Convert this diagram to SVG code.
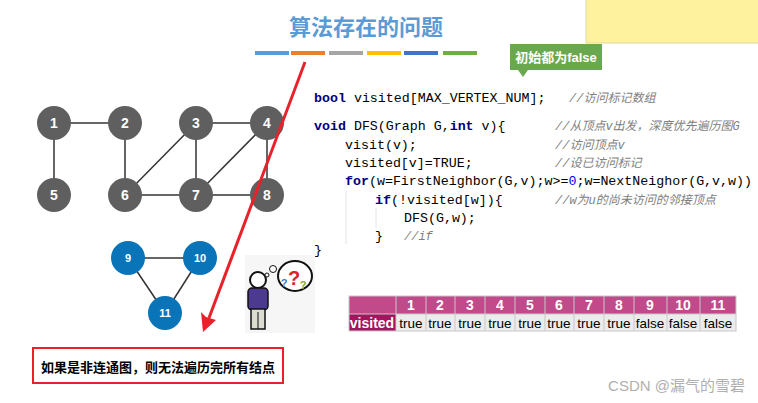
<svg xmlns="http://www.w3.org/2000/svg" width="758" height="403" viewBox="0 0 758 403">
<style>
.g{fill:#5f5f5f}.b{fill:#0a74b8}
.nt{font-family:"Liberation Sans",sans-serif;font-weight:bold;fill:#fff;text-anchor:middle}
.e{stroke:#333;stroke-width:1.5;fill:none}
.code{font-family:"Liberation Mono","DejaVu Sans Mono",monospace;font-size:13.3px;fill:#000}
.kw{fill:#000080;font-weight:bold}
.cm{fill:#808080;font-style:italic;font-family:"Liberation Mono","Noto Sans CJK SC",monospace;font-size:12px}
.th{font-family:"Liberation Sans",sans-serif;font-size:14px;font-weight:bold;fill:#fff;text-anchor:middle}
.td{font-family:"Liberation Sans",sans-serif;font-size:13.5px;fill:#000;text-anchor:middle}
</style>
<rect width="758" height="403" fill="#fff"/>
<rect x="586" y="-2" width="174" height="45" fill="#fff29e" stroke="#e0d9a0"/>
<text x="366" y="35" text-anchor="middle" font-family="Noto Sans CJK SC,sans-serif" font-size="22" font-weight="bold" fill="#5b9bd5">算法存在的问题</text>
<g>
<rect x="255" y="51" width="34" height="4" fill="#5b9bd5"/>
<rect x="291" y="51" width="34" height="4" fill="#ed7d31"/>
<rect x="329" y="51" width="34" height="4" fill="#a5a5a5"/>
<rect x="367" y="51" width="34" height="4" fill="#ffc000"/>
<rect x="404" y="51" width="34" height="4" fill="#4472c4"/>
<rect x="443" y="51" width="34" height="4" fill="#70ad47"/>
</g>
<g id="callout">
<path d="M510,44 H602 V70 H528 L523,77 L518,70 H510 Z" fill="#6aa84f"/>
<text x="556" y="62" text-anchor="middle" font-family="Liberation Sans,Noto Sans CJK SC,sans-serif" font-size="13" font-weight="bold" fill="#fff">初始都为false</text>
</g>
<g id="edges">
<line class="e" x1="54" y1="123" x2="125" y2="123"/>
<line class="e" x1="54" y1="123" x2="54" y2="195"/>
<line class="e" x1="125" y1="123" x2="125" y2="195"/>
<line class="e" x1="196" y1="123" x2="267" y2="123"/>
<line class="e" x1="196" y1="123" x2="125" y2="195"/>
<line class="e" x1="196" y1="123" x2="196" y2="195"/>
<line class="e" x1="267" y1="123" x2="196" y2="195"/>
<line class="e" x1="267" y1="123" x2="267" y2="195"/>
<line class="e" x1="125" y1="195" x2="267" y2="195"/>
<line class="e" x1="128" y1="258" x2="200" y2="258"/>
<line class="e" x1="128" y1="258" x2="165" y2="313"/>
<line class="e" x1="200" y1="258" x2="165" y2="313"/>
</g>
<g font-size="14">
<g id="n1"><circle class="g" cx="54" cy="123" r="17"/><text class="nt" x="54" y="128">1</text></g>
<g id="n2"><circle class="g" cx="125" cy="123" r="17"/><text class="nt" x="125" y="128">2</text></g>
<g id="n3"><circle class="g" cx="196" cy="123" r="17"/><text class="nt" x="196" y="128">3</text></g>
<g id="n4"><circle class="g" cx="267" cy="123" r="17"/><text class="nt" x="267" y="128">4</text></g>
<g id="n5"><circle class="g" cx="54" cy="195" r="17"/><text class="nt" x="54" y="200">5</text></g>
<g id="n6"><circle class="g" cx="125" cy="195" r="17"/><text class="nt" x="125" y="200">6</text></g>
<g id="n7"><circle class="g" cx="196" cy="195" r="17"/><text class="nt" x="196" y="200">7</text></g>
<g id="n8"><circle class="g" cx="267" cy="195" r="17"/><text class="nt" x="267" y="200">8</text></g>
</g>
<g font-size="11">
<g id="n9"><circle class="b" cx="128" cy="258" r="17"/><text class="nt" x="128" y="262">9</text></g>
<g id="n10"><circle class="b" cx="200" cy="258" r="17"/><text class="nt" x="200" y="262">10</text></g>
<g id="n11"><circle class="b" cx="165" cy="313" r="17"/><text class="nt" x="165" y="317">11</text></g>
</g>
<g id="arrow">
<line x1="305" y1="62" x2="209" y2="318" stroke="#e8212a" stroke-width="3"/>
<path d="M203,332 L201,312 L206,317 L216,320 Z" fill="#e8212a"/>
</g>
<g id="note">
<rect x="33" y="348" width="250" height="35" fill="#fff" stroke="#e8212a" stroke-width="2"/>
<text x="158" y="372" text-anchor="middle" font-family="Noto Sans CJK SC,sans-serif" font-size="13" font-weight="bold" fill="#000">如果是非连通图，则无法遍历完所有结点</text>
</g>
<g id="code" class="code">
<text x="314" y="102"><tspan class="kw">bool</tspan> visited[MAX_VERTEX_NUM];</text>
<text x="569" y="102" class="cm">//访问标记数组</text>
<text x="314" y="130"><tspan class="kw">void</tspan> DFS(Graph G,<tspan class="kw">int</tspan> v){</text>
<text x="555" y="130" class="cm">//从顶点v出发，深度优先遍历图G</text>
<text x="345" y="149">visit(v);</text>
<text x="555" y="149" class="cm">//访问顶点v</text>
<text x="345" y="167">visited[v]=TRUE;</text>
<text x="555" y="167" class="cm">//设已访问标记</text>
<text x="345" y="185"><tspan class="kw">for</tspan>(w=FirstNeighbor(G,v);w&gt;=<tspan fill="#0000ff">0</tspan>;w=NextNeighor(G,v,w))</text>
<text x="375" y="204"><tspan class="kw">if</tspan>(!visited[w]){</text>
<text x="555" y="204" class="cm">//w为u的尚未访问的邻接顶点</text>
<text x="404" y="222">DFS(G,w);</text>
<text x="375" y="240">}</text>
<text x="404" y="240" class="cm">//if</text>
<text x="314" y="254">}</text>
<line x1="346" y1="190" x2="346" y2="244" stroke="#e4e4e4"/>
<line x1="376" y1="208" x2="376" y2="228" stroke="#e4e4e4"/>
</g>
<g id="person">
<rect x="245" y="255" width="70" height="78" fill="#f6f6f6"/>
<circle cx="258" cy="280" r="8" fill="#fff" stroke="#111" stroke-width="2"/>
<rect x="248" y="288" width="20" height="22" rx="4" fill="#4b3a8f" stroke="#111" stroke-width="1.5"/>
<rect x="251" y="309" width="14" height="20" fill="#dcdcd0" stroke="#111" stroke-width="1.5"/>
<line x1="258" y1="312" x2="258" y2="329" stroke="#111"/>
<circle cx="267" cy="275" r="2" fill="#fff" stroke="#111"/>
<circle cx="273" cy="269" r="3.5" fill="#fff" stroke="#111"/>
<ellipse cx="295" cy="276" rx="17" ry="15" fill="#fff" stroke="#111" stroke-width="2"/>
<text x="294" y="285" text-anchor="middle" font-family="Liberation Sans,sans-serif" font-size="20" font-weight="bold" fill="#d9262c">?</text>
<text x="284" y="287" text-anchor="middle" font-family="Liberation Sans,sans-serif" font-size="11" font-weight="bold" fill="#3b78c0">?</text>
<text x="303" y="289" text-anchor="middle" font-family="Liberation Sans,sans-serif" font-size="11" font-weight="bold" fill="#8aa626">?</text>
</g>
<g id="table">
<rect x="349" y="296" width="387" height="18" fill="#c14a8a"/>
<rect x="349" y="314" width="47" height="17" fill="#a3155f"/>
<rect x="396" y="314" width="340" height="17" fill="#ececec"/>
<g stroke="#c8c8c8" stroke-width="1">
<rect x="349" y="296" width="387" height="35" fill="none"/>
<line x1="396" y1="296" x2="396" y2="331"/><line x1="426" y1="296" x2="426" y2="331"/><line x1="455" y1="296" x2="455" y2="331"/><line x1="485" y1="296" x2="485" y2="331"/><line x1="515" y1="296" x2="515" y2="331"/><line x1="545" y1="296" x2="545" y2="331"/><line x1="574" y1="296" x2="574" y2="331"/><line x1="604" y1="296" x2="604" y2="331"/><line x1="634" y1="296" x2="634" y2="331"/><line x1="667" y1="296" x2="667" y2="331"/><line x1="700" y1="296" x2="700" y2="331"/>
<line x1="349" y1="314" x2="736" y2="314"/>
</g>
<text class="th" x="411" y="310">1</text><text class="th" x="440" y="310">2</text><text class="th" x="470" y="310">3</text><text class="th" x="500" y="310">4</text><text class="th" x="530" y="310">5</text><text class="th" x="559" y="310">6</text><text class="th" x="589" y="310">7</text><text class="th" x="619" y="310">8</text><text class="th" x="650" y="310">9</text><text class="th" x="683" y="310">10</text><text class="th" x="718" y="310">11</text>
<text class="th" x="372" y="328">visited</text>
<text class="td" x="411" y="328">true</text><text class="td" x="440" y="328">true</text><text class="td" x="470" y="328">true</text><text class="td" x="500" y="328">true</text><text class="td" x="530" y="328">true</text><text class="td" x="559" y="328">true</text><text class="td" x="589" y="328">true</text><text class="td" x="619" y="328">true</text><text class="td" x="650" y="328">false</text><text class="td" x="683" y="328">false</text><text class="td" x="718" y="328">false</text>
</g>
<text x="745" y="391" text-anchor="end" font-family="Liberation Sans,Noto Sans CJK SC,sans-serif" font-size="15" fill="#b0b0b0">CSDN @漏气的雪碧</text>
</svg>
